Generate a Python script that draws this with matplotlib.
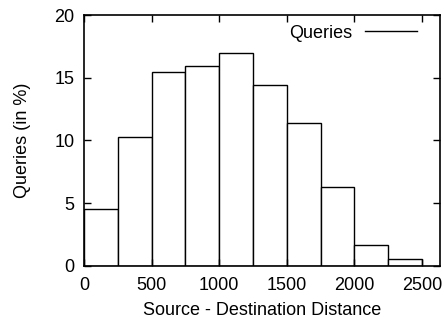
import matplotlib
matplotlib.use("Agg")
import matplotlib.pyplot as plt
from matplotlib.lines import Line2D

plt.rcParams['font.family'] = ['Liberation Sans', 'DejaVu Sans']

# histogram of source-destination distances (bin width 250)
bin_starts = [0, 250, 500, 750, 1000, 1250, 1500, 1750, 2000, 2250]
bin_width = 250
queries_pct = [4.5, 10.25, 15.45, 15.95, 17.0, 14.45, 11.4, 6.3, 1.65, 0.5]

x_ticks = [0, 500, 1000, 1500, 2000, 2500]
y_ticks = [0, 5, 10, 15, 20]

fs = 13

fig = plt.figure(figsize=(4.44, 3.25), dpi=100)
ax = fig.add_axes([84 / 444, 1 - 265.7 / 325, (439.5 - 84) / 444, (265.7 - 15) / 325])

ax.bar(bin_starts, queries_pct, width=bin_width, align='edge',
       facecolor='white', edgecolor='black', linewidth=1.0)

ax.set_xlim(0, 2630)
ax.set_ylim(0, 20)
ax.set_xticks(x_ticks)
ax.set_yticks(y_ticks)
ax.tick_params(direction='in', top=True, right=True, length=5, width=1,
               labelsize=fs)
ax.tick_params(axis='x', pad=8)
ax.tick_params(axis='y', pad=7)
for s in ax.spines.values():
    s.set_linewidth(1.2)

ax.set_xlabel('Source - Destination Distance', fontsize=fs, labelpad=6)
ax.set_ylabel('Queries (in %)', fontsize=fs, labelpad=17)

# key in the top right corner, sample line after the label
handle = Line2D([], [], color='black', linewidth=1)
ax.legend([handle], ['Queries'], loc='upper right', frameon=False,
          markerfirst=False, fontsize=fs, handlelength=2.9, handletextpad=0.7,
          borderpad=0, borderaxespad=0,
          bbox_to_anchor=((417 - 84) / 355.5, 1 - 9.5 / 250.7))

fig.savefig('out.png', dpi=100)
